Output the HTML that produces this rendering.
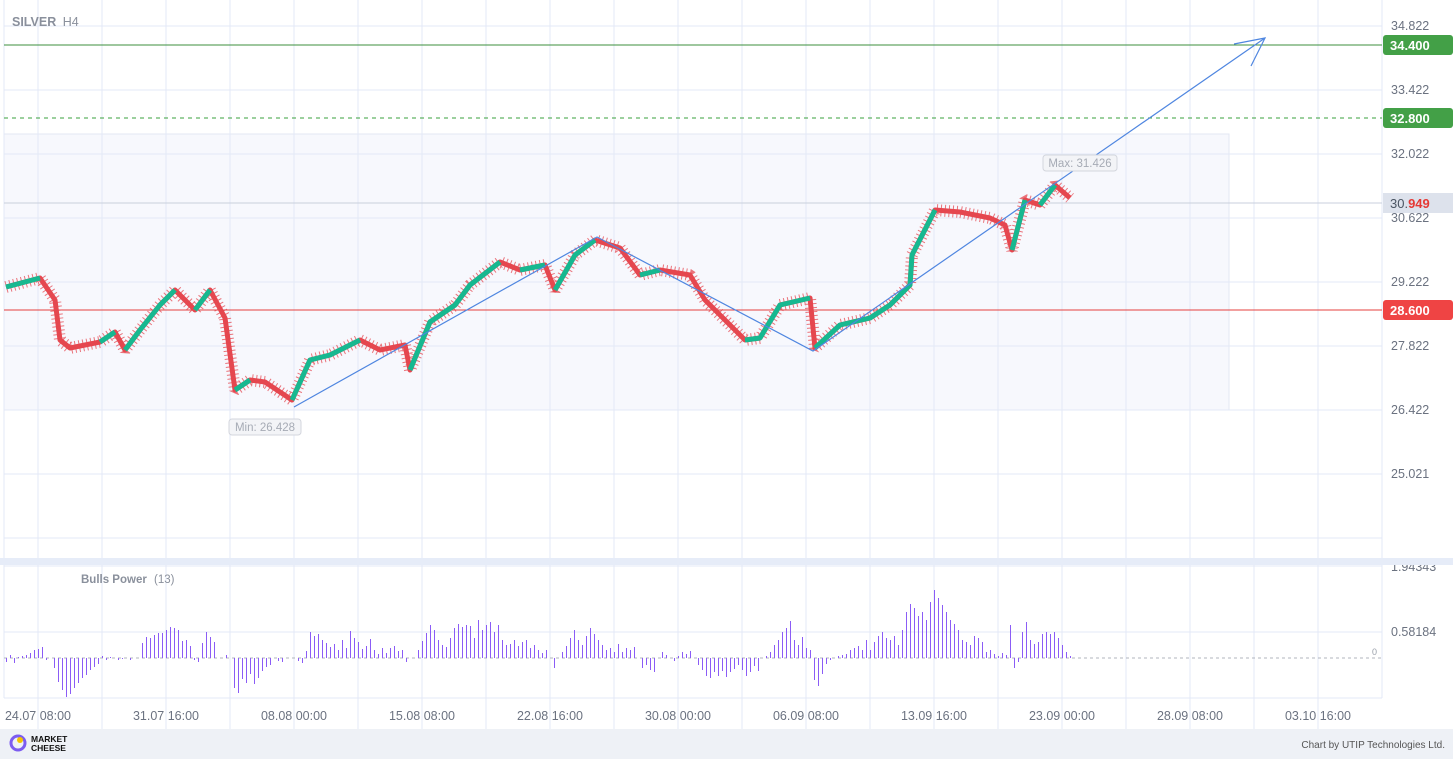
<!DOCTYPE html>
<html><head><meta charset="utf-8"><style>
html,body{margin:0;padding:0;background:#fff;}
body{width:1453px;height:759px;overflow:hidden;font-family:"Liberation Sans",sans-serif;}
</style></head><body>
<svg width="1453" height="759" xmlns="http://www.w3.org/2000/svg" font-family="Liberation Sans, sans-serif">
<rect x="4" y="134" width="1225" height="276" fill="#f7f8fd" stroke="#e3e7f3"/>
<path stroke="#e3e9f7" fill="none" d="M38 0V729M102 0V729M166 0V729M230 0V729M294 0V729M358 0V729M422 0V729M486 0V729M550 0V729M614 0V729M678 0V729M742 0V729M806 0V729M870 0V729M934 0V729M998 0V729M1062 0V729M1126 0V729M1190 0V729M1254 0V729M1318 0V729M4 0V698M1382 0V698
M4 26H1382M4 90H1382M4 154H1382M4 218H1382M4 282H1382M4 346H1382M4 410H1382M4 474H1382M4 538H1382M4 566H1382M4 632H1382M4 698H1382"/>
<g font-size="12.5" fill="#6b7280">
<text x="1391" y="30">34.822</text><text x="1391" y="94">33.422</text><text x="1391" y="158">32.022</text><text x="1391" y="222">30.622</text><text x="1391" y="286">29.222</text><text x="1391" y="350">27.822</text><text x="1391" y="414">26.422</text><text x="1391" y="478">25.021</text>
<text x="1391" y="571">1.94343</text><text x="1391" y="636">0.58184</text>
</g>
<text x="1372" y="655" font-size="9" fill="#9aa0aa">0</text>
<rect x="0" y="558" width="1453" height="7" fill="#e6ecf8"/>
<line x1="4" y1="658" x2="1382" y2="658" stroke="#b0b4bc" stroke-dasharray="3,3"/>
<g font-size="12.5" fill="#6b7280" text-anchor="middle">
<text x="38" y="720">24.07 08:00</text><text x="166" y="720">31.07 16:00</text><text x="294" y="720">08.08 00:00</text><text x="422" y="720">15.08 08:00</text><text x="550" y="720">22.08 16:00</text><text x="678" y="720">30.08 00:00</text><text x="806" y="720">06.09 08:00</text><text x="934" y="720">13.09 16:00</text><text x="1062" y="720">23.09 00:00</text><text x="1190" y="720">28.09 08:00</text><text x="1318" y="720">03.10 16:00</text>
</g>
<rect x="0" y="729" width="1453" height="30" fill="#eef1f6"/>
<line x1="4" y1="45" x2="1382" y2="45" stroke="#3c8f3e"/>
<line x1="4" y1="118" x2="1382" y2="118" stroke="#3aa13d" stroke-dasharray="4,4"/>
<line x1="4" y1="310" x2="1382" y2="310" stroke="#e5403f"/>
<line x1="4" y1="203" x2="1382" y2="203" stroke="#c9cfdc"/>
<!-- wick texture -->
<polyline fill="none" stroke="#e5474f" stroke-width="12" stroke-linejoin="bevel" stroke-dasharray="1,3" stroke-opacity="0.75" points="6,287 40,278 55,300 60,340 70,348 100,342 115,332 125,350 140,330 160,305 175,290 195,310 210,290 225,318 235,390 250,380 265,382 292,400 310,360 330,355 360,340 380,350 405,345 410,370 430,322 455,305 470,285 500,262 520,270 545,265 555,290 575,255 595,240 620,248 640,275 660,270 690,275 705,300 720,315 745,340 760,338 780,305 810,298 815,348 840,325 870,318 890,305 910,285 912,255 935,210 960,212 990,218 1005,225 1012,250 1025,200 1040,205 1055,185 1070,198"/>
<polyline fill="none" stroke="#e5474f" stroke-width="5" stroke-linejoin="round" points="6,287 40,278 55,300 60,340 70,348 100,342 115,332 125,350 140,330 160,305 175,290 195,310 210,290 225,318 235,390 250,380 265,382 292,400 310,360 330,355 360,340 380,350 405,345 410,370 430,322 455,305 470,285 500,262 520,270 545,265 555,290 575,255 595,240 620,248 640,275 660,270 690,275 705,300 720,315 745,340 760,338 780,305 810,298 815,348 840,325 870,318 890,305 910,285 912,255 935,210 960,212 990,218 1005,225 1012,250 1025,200 1040,205 1055,185 1070,198"/>
<path fill="none" stroke="#17b890" stroke-width="5" stroke-linejoin="round" d="M6 287L40 278M100 342L115 332M125 350L140 330L160 305L175 290M195 310L210 290M235 390L250 380M292 400L310 360L330 355L360 340M410 370L430 322L455 305L470 285L500 262M520 270L545 265M555 290L575 255L595 240M640 275L660 270M745 340L760 338L780 305L810 298M815 348L840 325L870 318L890 305L910 285L912 255L935 210M1012 250L1025 200M1040 205L1055 185"/>
<!-- bulls power -->
<path transform="translate(0.5,0)" fill="none" stroke="#8b5cf6" stroke-width="1" d="M6 658V662M10 658V655M14 658V663M18 658V657M22 658V656M26 658V655M30 658V653M34 658V650M38 658V649M42 658V647M46 658V660M50 658V658M54 658V668M58 658V682M62 658V690M66 658V697M70 658V694M74 658V688M78 658V683M82 658V678M86 658V675M90 658V670M94 658V667M98 658V664M102 658V656M106 658V660M110 658V657M118 658V660M122 658V659M130 658V660M142 658V643M146 658V637M150 658V638M154 658V635M158 658V633M162 658V633M166 658V630M170 658V627M174 658V628M178 658V630M182 658V641M186 658V640M190 658V646M194 658V660M198 658V662M202 658V643M206 658V632M210 658V637M214 658V642M226 658V655M234 658V688M238 658V693M242 658V679M246 658V683M250 658V674M254 658V684M258 658V678M262 658V671M266 658V667M270 658V665M278 658V661M282 658V662M298 658V661M302 658V663M306 658V651M310 658V632M314 658V636M318 658V634M322 658V640M326 658V643M330 658V647M334 658V644M338 658V650M342 658V640M346 658V648M350 658V631M354 658V638M358 658V642M362 658V649M366 658V646M370 658V639M374 658V650M378 658V654M382 658V648M386 658V653M390 658V648M394 658V646M398 658V651M402 658V650M406 658V662M418 658V650M422 658V641M426 658V633M430 658V625M434 658V630M438 658V640M442 658V645M446 658V647M450 658V638M454 658V628M458 658V624M462 658V627M466 658V625M470 658V626M474 658V638M478 658V620M482 658V630M486 658V625M490 658V622M494 658V632M498 658V625M502 658V640M506 658V645M510 658V644M514 658V640M518 658V646M522 658V642M526 658V640M530 658V648M534 658V645M538 658V650M542 658V653M546 658V650M554 658V668M562 658V652M566 658V646M570 658V638M574 658V630M578 658V640M582 658V645M586 658V636M590 658V628M594 658V634M598 658V640M602 658V645M606 658V650M610 658V648M614 658V652M618 658V644M622 658V652M626 658V648M630 658V650M634 658V647M642 658V668M646 658V665M650 658V670M654 658V672M662 658V652M666 658V655M674 658V661M678 658V656M682 658V652M686 658V654M690 658V651M698 658V665M702 658V670M706 658V676M710 658V678M714 658V672M718 658V676M722 658V671M726 658V677M730 658V672M734 658V669M738 658V665M742 658V670M746 658V676M750 658V672M754 658V666M758 658V671M766 658V656M770 658V652M774 658V645M778 658V640M782 658V632M786 658V628M790 658V621M794 658V640M798 658V645M802 658V637M806 658V648M810 658V650M814 658V680M818 658V686M822 658V674M826 658V664M830 658V660M838 658V656M842 658V655M846 658V654M850 658V650M854 658V648M858 658V646M862 658V650M866 658V640M870 658V650M874 658V642M878 658V636M882 658V632M886 658V638M890 658V640M894 658V636M898 658V645M902 658V630M906 658V612M910 658V604M914 658V608M918 658V616M922 658V612M926 658V620M930 658V602M934 658V590M938 658V598M942 658V605M946 658V612M950 658V620M954 658V624M958 658V630M962 658V640M966 658V642M970 658V645M974 658V636M978 658V638M982 658V642M986 658V652M990 658V650M994 658V654M998 658V656M1002 658V653M1006 658V655M1010 658V625M1014 658V668M1018 658V662M1022 658V632M1026 658V622M1030 658V640M1034 658V644M1038 658V642M1042 658V634M1046 658V632M1050 658V634M1054 658V632M1058 658V638M1062 658V645M1066 658V652M1070 658V656"/>
<polyline points="294,407 597,237 813,351 1265,38" fill="none" stroke="#4f86e0" stroke-width="1.2"/>
<polyline points="1234,44 1265,38 1251,66" fill="none" stroke="#4f86e0" stroke-width="1.2"/>
<rect x="1043" y="155" width="74" height="16" rx="3" fill="#f3f4f7" stroke="#d3d6dd"/><text x="1080" y="167" font-size="11.5" fill="#a6abb5" text-anchor="middle">Max: 31.426</text>
<rect x="229" y="419" width="72" height="16" rx="3" fill="#f3f4f7" stroke="#d3d6dd"/><text x="265" y="431" font-size="11.5" fill="#a6abb5" text-anchor="middle">Min: 26.428</text>
<rect x="1383" y="35" width="70" height="20" rx="3" fill="#43a047"/><text x="1390" y="50" font-size="13" font-weight="bold" fill="#fff">34.400</text>
<rect x="1383" y="108" width="70" height="20" rx="3" fill="#43a047"/><text x="1390" y="123" font-size="13" font-weight="bold" fill="#fff">32.800</text>
<rect x="1383" y="300" width="70" height="20" rx="3" fill="#ef4444"/><text x="1390" y="315" font-size="13" font-weight="bold" fill="#fff">28.600</text>
<rect x="1383" y="193" width="70" height="20" fill="#dde2ec"/><text x="1390" y="208" font-size="13" fill="#4b5563">30.<tspan fill="#e53935" font-weight="bold">949</tspan></text>
<text x="12" y="26" font-size="12.5" font-weight="bold" fill="#8a909c">SILVER <tspan font-weight="normal" dx="3">H4</tspan></text>
<text x="81" y="583" font-size="11.5" font-weight="bold" fill="#8a909c">Bulls Power <tspan font-weight="normal" dx="4">(13)</tspan></text>
<circle cx="18" cy="743" r="7" fill="none" stroke="#7c5cf0" stroke-width="3"/><circle cx="20" cy="740" r="3" fill="#f5c400"/>
<text x="31" y="742" font-size="8.5" font-weight="bold" fill="#111">MARKET</text><text x="31" y="751" font-size="8.5" font-weight="bold" fill="#111">CHEESE</text>
<text x="1445" y="748" font-size="10" fill="#555" text-anchor="end">Chart by UTIP Technologies Ltd.</text>
</svg>
</body></html>
